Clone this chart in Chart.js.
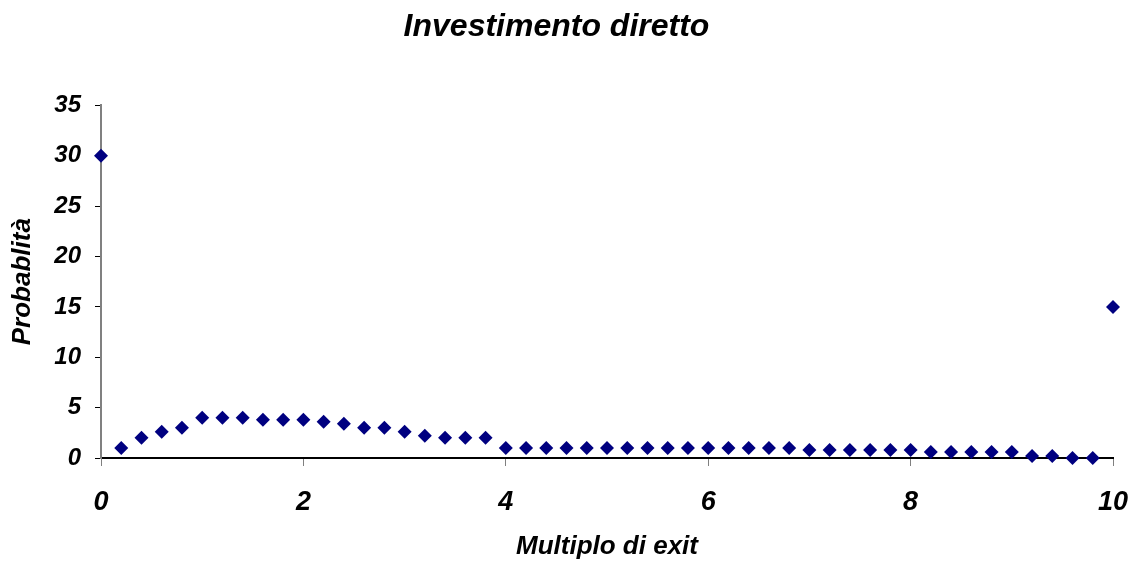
<!DOCTYPE html>
<html>
<head>
<meta charset="utf-8">
<title>Investimento diretto</title>
<script src="https://cdn.jsdelivr.net/npm/chart.js@4/dist/chart.umd.min.js"></script>
<style>
    html, body { margin: 0; padding: 0; background: #fff; }
    #wrap { width: 1134px; height: 562px; }
</style>
</head>
<body>
<div id="wrap"><canvas id="grafico"></canvas></div>
<script>
// Dati
const multiplo = [0, 0.2, 0.4, 0.6, 0.8, 1, 1.2, 1.4, 1.6, 1.8, 2, 2.2, 2.4, 2.6, 2.8, 3, 3.2, 3.4, 3.6, 3.8,
    4, 4.2, 4.4, 4.6, 4.8, 5, 5.2, 5.4, 5.6, 5.8, 6, 6.2, 6.4, 6.6, 6.8, 7, 7.2, 7.4, 7.6, 7.8,
    8, 8.2, 8.4, 8.6, 8.8, 9, 9.2, 9.4, 9.6, 9.8, 10];
const probabilita = [30, 1, 2, 2.6, 3, 4, 4, 4, 3.8, 3.8, 3.8, 3.6, 3.4, 3, 3, 2.6, 2.2, 2, 2, 2,
    1, 1, 1, 1, 1, 1, 1, 1, 1, 1, 1, 1, 1, 1, 1, 0.8, 0.8, 0.8, 0.8, 0.8,
    0.8, 0.6, 0.6, 0.6, 0.6, 0.6, 0.2, 0.2, 0, 0, 15];
const ticksX = [0, 2, 4, 6, 8, 10];

const font = 'Arial, "Liberation Sans", sans-serif';
Chart.defaults.font.family = font;
Chart.defaults.color = '#000';

const punti = multiplo.map((x, i) => ({ x: x, y: probabilita[i] }));

const ctx = document.getElementById('grafico').getContext('2d');
new Chart(ctx, {
    type: 'scatter',
    data: {
        datasets: [{
            label: 'Probablità',
            data: punti,
            pointStyle: 'rectRot',
            pointRadius: 7,
            pointHoverRadius: 7,
            backgroundColor: '#000080',
            borderColor: '#000080',
            borderWidth: 0,
            clip: false
        }]
    },
    options: {
        responsive: true,
        maintainAspectRatio: false,
        animation: false,
        layout: { padding: { left: 0, right: 21, top: 0, bottom: 0 } },
        plugins: {
            legend: { display: false },
            tooltip: { enabled: false },
            title: {
                display: true,
                text: 'Investimento diretto',
                font: { size: 32, weight: 'bold', style: 'italic' },
                padding: { top: 8, bottom: 59 }
            }
        },
        scales: {
            x: {
                type: 'linear',
                min: 0,
                max: 10,
                afterBuildTicks: scale => { scale.ticks = ticksX.map(v => ({ value: v })); },
                afterFit: scale => {
                    scale.height = 104;
                    // le etichette non devono restringere l'area del grafico
                    scale.paddingLeft = 0;
                    scale.paddingRight = 12;
                },
                ticks: {
                    font: { size: 27, weight: 'bold', style: 'italic' },
                    padding: 20
                },
                grid: { drawOnChartArea: false, tickLength: 8, tickColor: '#808080' },
                border: { color: '#000', width: 2 },
                title: {
                    display: true,
                    text: 'Multiplo di exit',
                    font: { size: 26, weight: 'bold', style: 'italic' },
                    padding: { top: 0, bottom: 0 }
                }
            },
            y: {
                min: 0,
                max: 35,
                afterFit: scale => { scale.width = 101; },
                ticks: {
                    stepSize: 5,
                    font: { size: 24, weight: 'bold', style: 'italic' },
                    padding: 14
                },
                grid: { drawOnChartArea: false, tickLength: 6, tickColor: '#000' },
                border: { color: '#808080', width: 2 },
                title: {
                    display: true,
                    text: 'Probablità',
                    font: { size: 26, weight: 'bold', style: 'italic' },
                    padding: { top: 7, bottom: 0 }
                }
            }
        }
    }
});
</script>
</body>
</html>
